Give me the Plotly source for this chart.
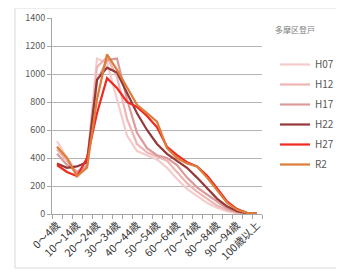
import plotly.graph_objects as go

categories = ["0～4歳", "5～9歳", "10～14歳", "15～19歳", "20～24歳", "25～29歳", "30～34歳",
              "35～39歳", "40～44歳", "45～49歳", "50～54歳", "55～59歳", "60～64歳", "65～69歳",
              "70～74歳", "75～79歳", "80～84歳", "85～89歳", "90～94歳", "95～99歳", "100歳以上"]

H07 = [520, 400, 300, 360, 1110, 1080, 820, 560, 450, 420, 390, 330, 250, 180, 130, 80, 45, 20, 6, 2, 0]
H12 = [460, 380, 290, 350, 1050, 1120, 980, 680, 500, 440, 410, 380, 300, 220, 160, 110, 60, 28, 10, 3, 0]
H17 = [430, 350, 300, 340, 950, 1100, 1110, 820, 580, 470, 420, 400, 350, 260, 190, 140, 85, 40, 15, 4, 0]
H22 = [360, 330, 340, 370, 960, 1045, 1010, 870, 720, 600, 500, 430, 380, 330, 260, 185, 110, 55, 20, 5, 1]
H27 = [350, 300, 270, 400, 720, 970, 900, 800, 765, 700, 620, 480, 420, 370, 340, 275, 185, 90, 35, 8, 2]
R2 = [480, 400, 270, 330, 820, 1140, 1030, 900, 780, 720, 660, 470, 400, 360, 340, 260, 170, 80, 30, 8, 2]

series_names = ["H07", "H12", "H17", "H22", "H27", "R2"]
series_values = [H07, H12, H17, H22, H27, R2]
series_colors = ["#f5cccc", "#efb4b4", "#dc9a9a", "#953838", "#f02a22", "#dd7d3a"]

tick_labels = [c if i % 2 == 0 else "" for i, c in enumerate(categories)]
legend_title = "多摩区登戸"

# page body adds an 8px offset; work in reference pixel coords minus OFF
OFF = 8
W, H = 344 - OFF, 274 - OFF
PL, PR, PT, PB = 52 - OFF, 262 - OFF, 18 - OFF, 214 - OFF
PW, PH = PR - PL, PB - PT


def px(x):
    return (x - OFF - PL) / PW


def py(y):
    return (PB - (y - OFF)) / PH


fig = go.Figure()
for n, v, c in zip(series_names, series_values, series_colors):
    fig.add_trace(go.Scatter(x=categories, y=v, name=n, mode="lines",
                             line=dict(color=c, width=2.2), legendgroup=n))

FONT = "Noto Sans CJK JP"
fig.update_layout(
    width=W, height=H,
    margin=dict(l=PL, r=W - PR, t=PT, b=H - PB, autoexpand=False),
    paper_bgcolor="white", plot_bgcolor="white",
    font=dict(family=FONT, size=9, color="#595959"),
    showlegend=True,
    legend=dict(x=px(275), y=py(50), xanchor="left", yanchor="top",
                font=dict(size=10, color="#595959"), traceorder="grouped",
                tracegroupgap=1, itemwidth=30, bgcolor="rgba(0,0,0,0)"),
    xaxis=dict(type="category", tickvals=categories, ticktext=tick_labels, automargin=False,
               tickangle=-45, tickson="boundaries", ticks="outside", ticklen=4,
               tickcolor="#a6a6a6", showline=True, linecolor="#a6a6a6", linewidth=1,
               showgrid=False, range=[-0.5, 20.5], tickfont=dict(size=10.5, color="#333333")),
    yaxis=dict(range=[0, 1400], dtick=200, ticks="outside", ticklen=4, tickcolor="#a6a6a6",
               automargin=False,
               showline=True, linecolor="#a6a6a6", linewidth=1, gridcolor="#b5b5b5",
               gridwidth=1.3, tickfont=dict(size=9, color="#595959"), zeroline=False),
    annotations=[dict(text=legend_title, xref="paper", yref="paper", x=px(295),
                      y=py(30), xanchor="center", yanchor="middle", showarrow=False,
                      font=dict(size=8, color="#7f7f7f"))],
    shapes=[dict(type="rect", xref="paper", yref="paper", x0=px(15), x1=px(343),
                 y0=py(268), y1=py(8), line=dict(color="#d9d9d9", width=1),
                 layer="below")],
)

fig.write_html("out.html")
